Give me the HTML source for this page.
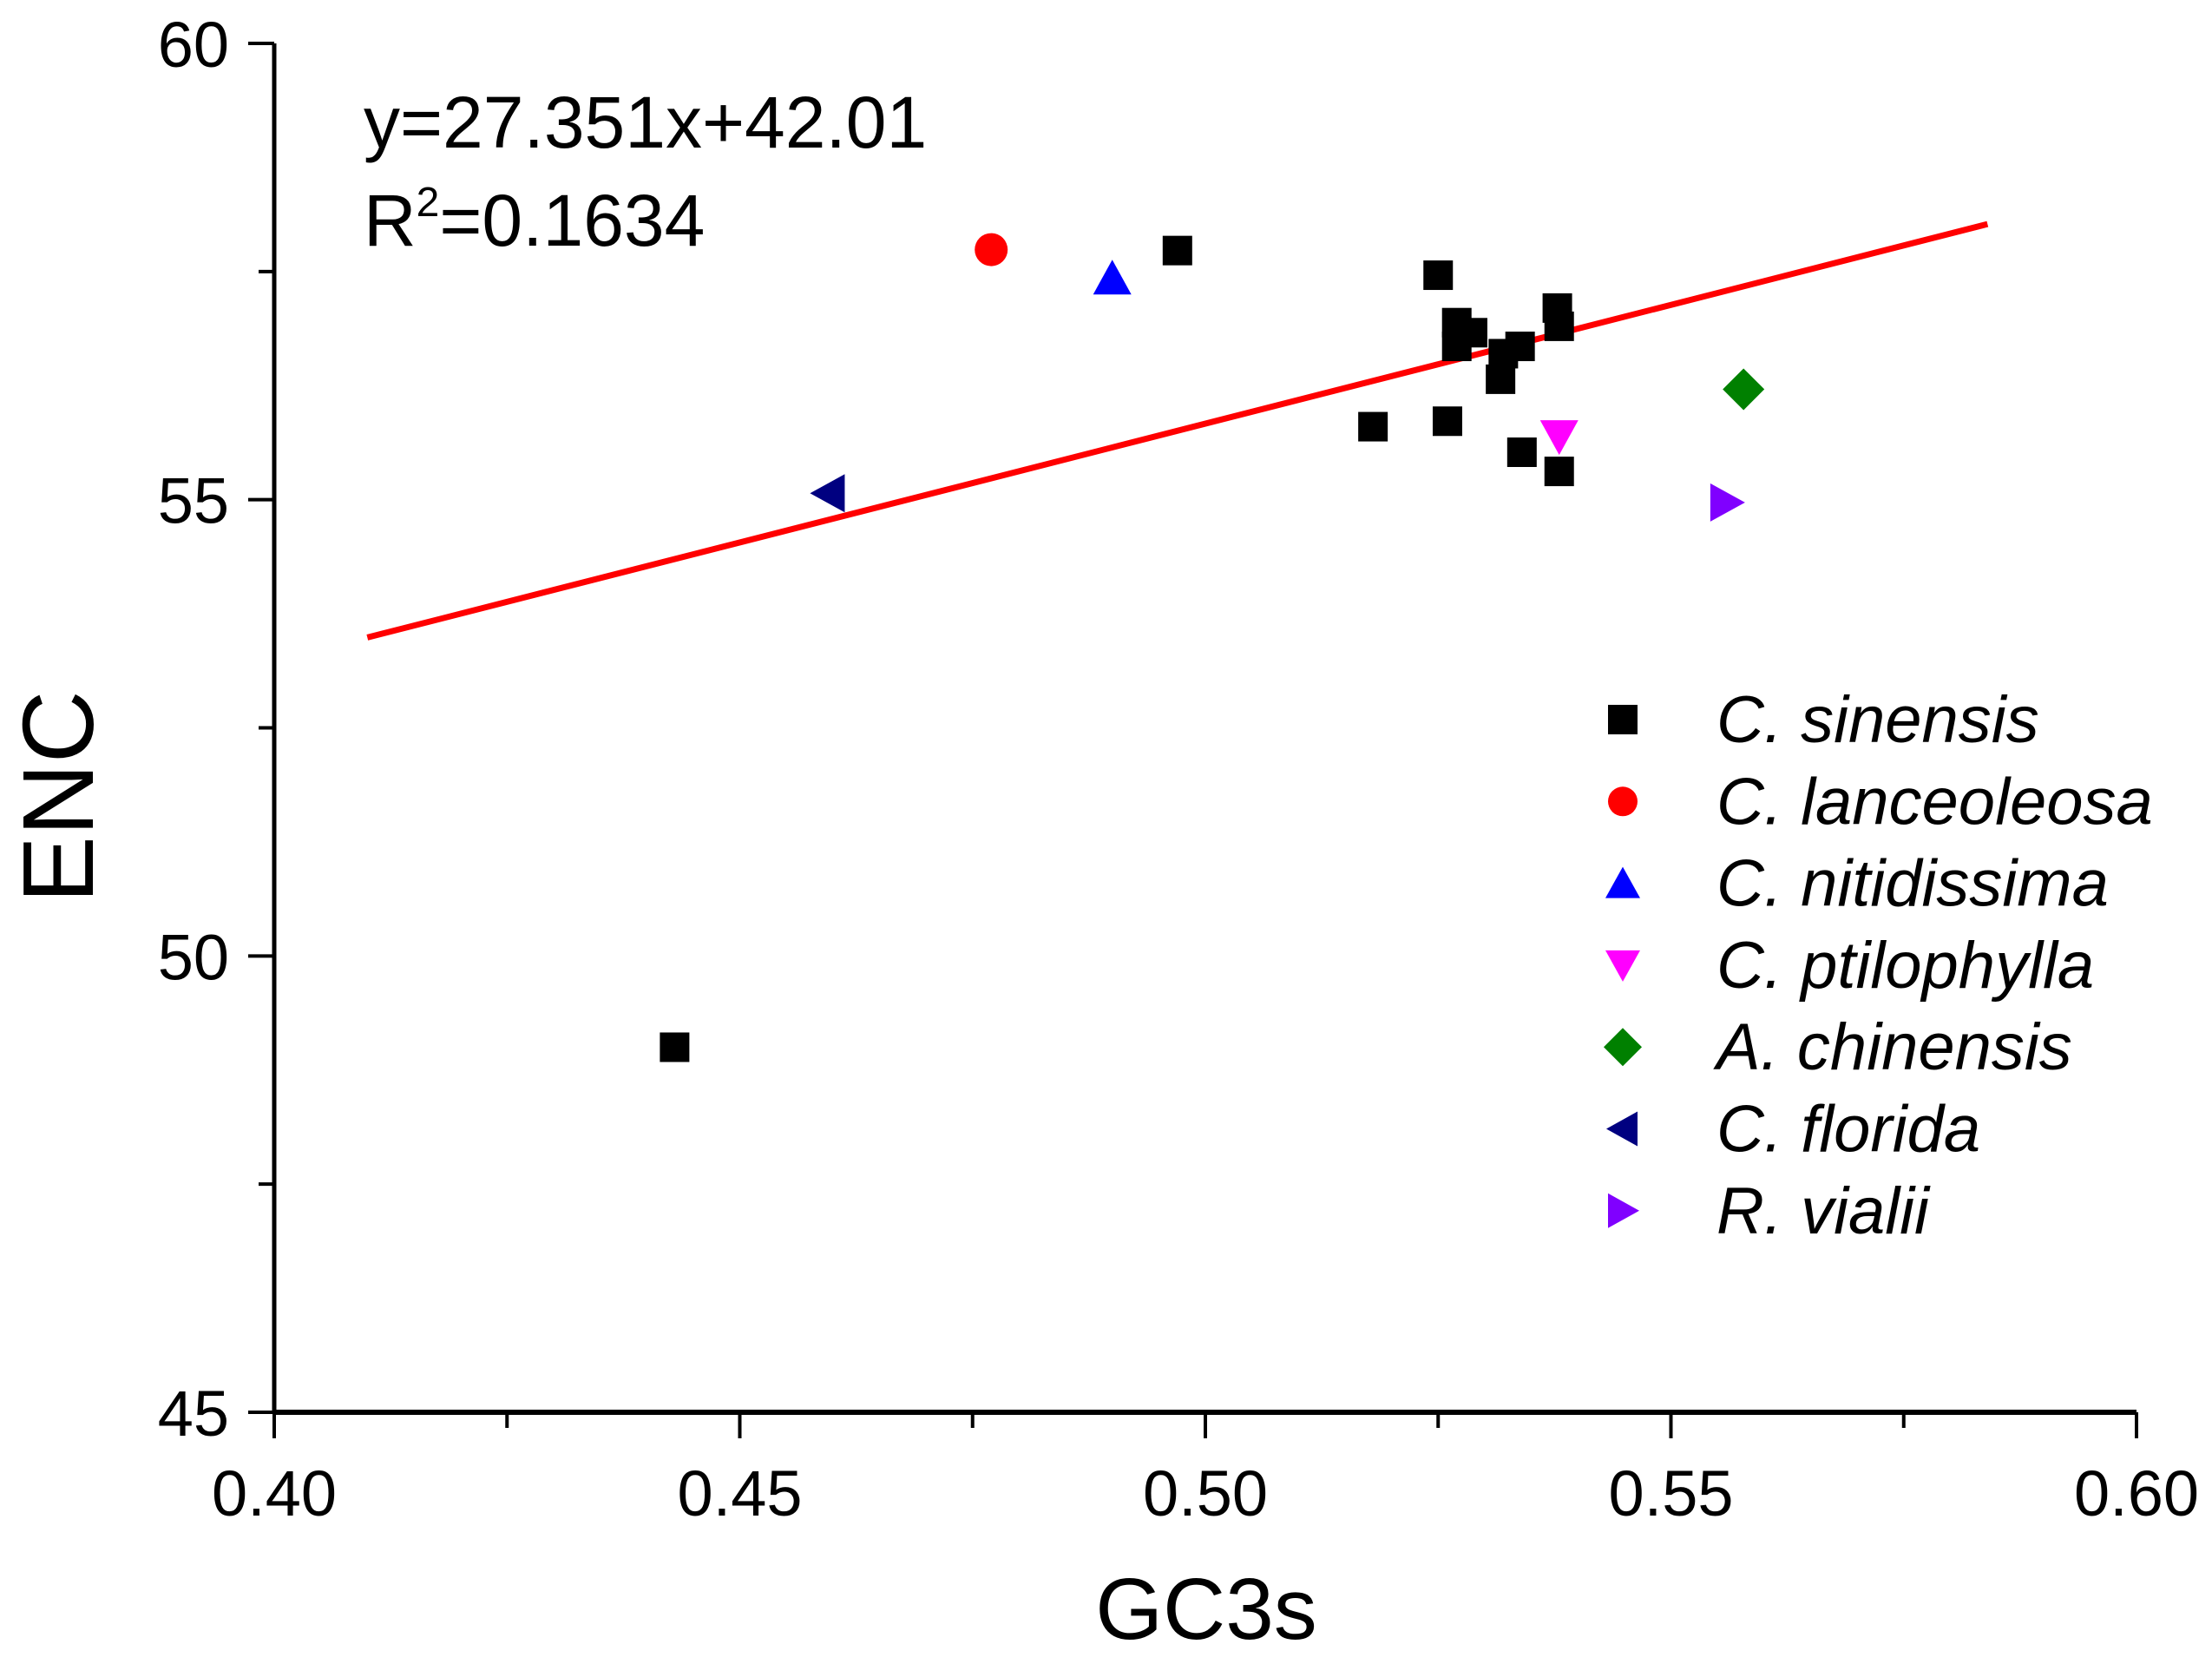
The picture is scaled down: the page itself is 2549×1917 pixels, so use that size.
<!DOCTYPE html>
<html><head><meta charset="utf-8"><style>body{margin:0;background:#fff}svg{display:block}text{font-family:"Liberation Sans",sans-serif}</style></head>
<body>
<svg id="chart" width="2549" height="1917" viewBox="0 0 2549 1917" xmlns="http://www.w3.org/2000/svg">
<g id="axes"></g>
<g id="fit"></g>
<g id="marks"></g>
<g id="legend"></g>
<text x="419" y="170" font-size="84">y=27.351x+42.01</text>
<text x="419" y="283" font-size="84">R<tspan font-size="48" dy="-34">2</tspan><tspan dy="34">=0.1634</tspan></text>
<text x="1390" y="1888" font-size="100" text-anchor="middle">GC3s</text>
<text x="0" y="0" font-size="116" text-anchor="middle" transform="translate(107,918) rotate(-90)">ENC</text>
</svg>
<script>
const xTicks=[0.40,0.45,0.50,0.55,0.60];
const yTicks=[45,50,55,60];
const xTickLabels=["0.40","0.45","0.50","0.55","0.60"];
const yTickLabels=["45","50","55","60"];
const speciesNames=["C. sinensis","C. lanceoleosa","C. nitidissima","C. ptilophylla","A. chinensis","C. florida","R. vialii"];
const speciesColors=["#000000","#ff0000","#0000ff","#ff00ff","#008000","#000080","#8000ff"];
const speciesShapes=["square","circle","up","down","diamond","left","right"];
const sinensisX=[0.443,0.497,0.518,0.525,0.526,0.527,0.527,0.5287,0.5317,0.532,0.5338,0.534,0.5378,0.538,0.538];
const sinensisY=[49.0,57.73,55.8,57.46,55.86,56.94,56.68,56.83,56.32,56.6,56.68,55.52,57.1,56.9,55.31];
const otherX=[0.477,0.490,0.538,0.5578,0.4595,0.556];
const otherY=[57.74,57.43,55.69,56.21,55.07,54.97];
const fitX=[0.41,0.584];
const fitY=[53.49,58.02];
const NS="http://www.w3.org/2000/svg";
const X0=316,X1=2462,Y0=1627,Y1=50;
const sx=v=>X0+(v-0.40)/(0.60-0.40)*(X1-X0);
const sy=v=>Y0-(v-45)/(60-45)*(Y0-Y1);
function mk(tag,attrs,parent){const e=document.createElementNS(NS,tag);for(const k in attrs)e.setAttribute(k,attrs[k]);parent.appendChild(e);return e;}
const axes=document.getElementById('axes');
let a=mk('line',{x1:X0-2,y1:Y0,x2:X1,y2:Y0,stroke:'#000','stroke-width':6},axes);


a=mk('line',{x1:X0,y1:Y0+2,x2:X0,y2:Y1,stroke:'#000','stroke-width':5},axes);


for(let i=0;i<=8;i++){const v=0.40+i*0.025;const major=i%2==0;
 const t=mk('line',{x1:sx(v),y1:Y0,x2:sx(v),y2:Y0+(major?30:18),stroke:'#000','stroke-width':4},axes);
 
 }
xTicks.forEach((v,i)=>{const t=mk('text',{x:sx(v),y:1746,'font-size':74,'text-anchor':'middle'},axes);t.textContent=xTickLabels[i];
 
 });
for(let i=0;i<=6;i++){const v=45+i*2.5;const major=i%2==0;
 const t=mk('line',{x1:X0-(major?30:18),y1:sy(v),x2:X0,y2:sy(v),stroke:'#000','stroke-width':4},axes);
 
 }
yTicks.forEach((v,i)=>{const t=mk('text',{x:264,y:sy(v)+27,'font-size':74,'text-anchor':'end'},axes);t.textContent=yTickLabels[i];
 
 });
const fl=mk('line',{x1:sx(fitX[0]),y1:sy(fitY[0]),x2:sx(fitX[1]),y2:sy(fitY[1]),stroke:'#ff0000','stroke-width':7},document.getElementById('fit'));


function marker(shape,cx,cy,s,color,parent){
 let e;
 if(shape==='square')e=mk('rect',{x:cx-s/2,y:cy-s/2,width:s,height:s,fill:color},parent);
 else if(shape==='circle')e=mk('circle',{cx:cx,cy:cy,r:s/2,fill:color},parent);
 else{let p;const h=s/2;
  if(shape==='up')p=[[cx,cy-h-2],[cx-h-3,cy+h],[cx+h+3,cy+h]];
  if(shape==='down')p=[[cx,cy+h+2],[cx-h-3,cy-h],[cx+h+3,cy-h]];
  if(shape==='left')p=[[cx-h-2,cy],[cx+h,cy-h-3],[cx+h,cy+h+3]];
  if(shape==='right')p=[[cx+h+2,cy],[cx-h,cy-h-3],[cx-h,cy+h+3]];
  if(shape==='diamond')p=[[cx,cy-h-5],[cx+h+5,cy],[cx,cy+h+5],[cx-h-5,cy]];
  e=mk('polygon',{points:p.map(q=>q.join(',')).join(' '),fill:color},parent);}
 return e;}
const marks=document.getElementById('marks');
sinensisX.forEach((v,i)=>{const e=marker('square',sx(v),sy(sinensisY[i]),34,'#000',marks);
 
 });
otherX.forEach((v,i)=>{const e=marker(speciesShapes[i+1],sx(v),sy(otherY[i]),38,speciesColors[i+1],marks);
 
 });
const leg=document.getElementById('legend');
speciesNames.forEach((n,i)=>{const y=829+i*94.3;
 const m=marker(speciesShapes[i],1870,y,34,speciesColors[i],leg);
 
 
 const t=mk('text',{x:1978,y:y+26,'font-size':76,'font-style':'italic'},leg);t.textContent=n;
 
 });
</script>
</body></html>
